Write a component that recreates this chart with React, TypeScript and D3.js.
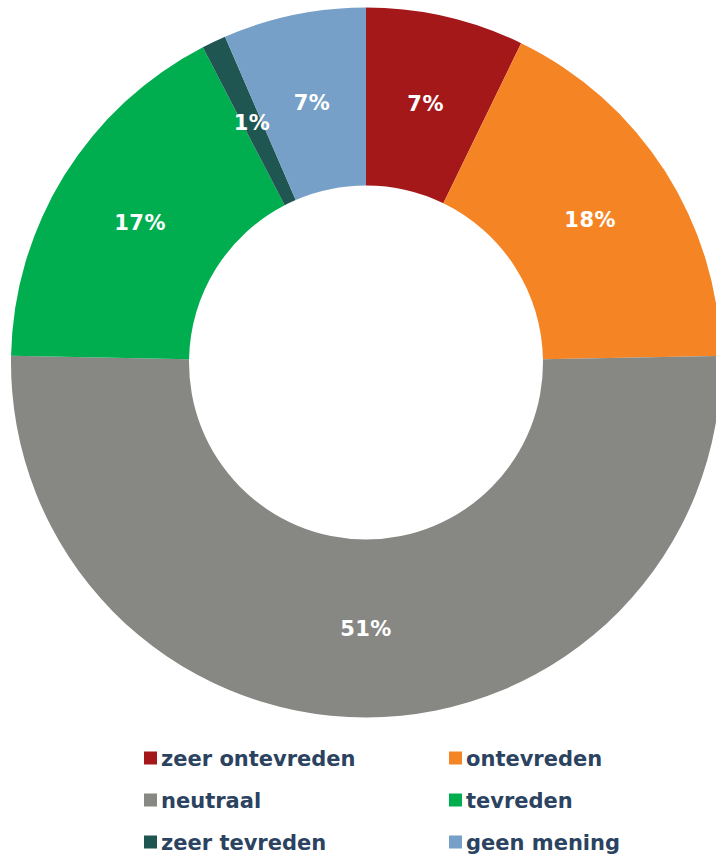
import React, { useEffect, useRef } from 'react';
import * as d3 from 'd3';

const categories = ['zeer ontevreden', 'ontevreden', 'neutraal', 'tevreden', 'zeer tevreden', 'geen mening'];
const values = [7.2, 17.5, 50.6, 17.1, 1.1, 6.5];
const labels = ['7%', '18%', '51%', '17%', '1%', '7%'];
const colors = ['#A5181A', '#F58524', '#878883', '#00AE50', '#1F5651', '#76A0C8'];

const App = () => {
    const svgRef = useRef<SVGSVGElement>(null);

    useEffect(() => {
        if (!svgRef.current) return;

        const width = 716;
        const height = 856;
        const cx = 366;
        const cy = 362.5;
        const outerR = 355;
        const innerR = 177;

        const svg = d3.select(svgRef.current);
        svg.selectAll("*").remove();
        svg.attr("width", width).attr("height", height);

        const data = categories.map((c, i) => ({ name: c, value: values[i], label: labels[i], color: colors[i] }));

        const pie = d3.pie<any>()
            .sort(null)
            .value(d => d.value);

        const arc = d3.arc<any>()
            .innerRadius(innerR)
            .outerRadius(outerR);

        const g = svg.append("g")
            .attr("transform", `translate(${cx},${cy})`);

        const arcs = pie(data);

        g.selectAll("path")
            .data(arcs)
            .enter()
            .append("path")
            .attr("d", arc)
            .style("fill", d => d.data.color);

        g.selectAll("text.lbl")
            .data(arcs)
            .enter()
            .append("text")
            .attr("class", "lbl")
            .attr("transform", d => `translate(${arc.centroid(d)})`)
            .attr("text-anchor", "middle")
            .attr("dy", "0.36em")
            .attr("fill", "#fff")
            .style("font-family", "'DejaVu Sans', Verdana, sans-serif")
            .style("font-weight", "bold")
            .style("font-size", "21px")
            .style("letter-spacing", "0.5px")
            .text(d => d.data.label);

        // legend, two columns
        const colX = [144, 449];
        const rowY = [758, 800, 842];

        const legend = svg.append("g");
        data.forEach((d, i) => {
            const x = colX[i % 2];
            const y = rowY[Math.floor(i / 2)];
            legend.append("rect")
                .attr("x", x)
                .attr("y", y - 6.5)
                .attr("width", 13)
                .attr("height", 13)
                .style("fill", d.color);
            legend.append("text")
                .attr("x", x + 17)
                .attr("y", y)
                .attr("dy", "0.36em")
                .attr("fill", "#2B4360")
                .style("font-family", "'DejaVu Sans', Verdana, sans-serif")
                .style("font-weight", "bold")
                .style("font-size", "21px")
                .text(d.name);
        });
    }, []);

    return (
        <div style={{ position: 'fixed', left: 0, top: 0, width: 716, height: 856, background: '#fff' }}>
            <svg ref={svgRef} style={{ display: 'block' }}></svg>
        </div>
    );
};

export default App;
